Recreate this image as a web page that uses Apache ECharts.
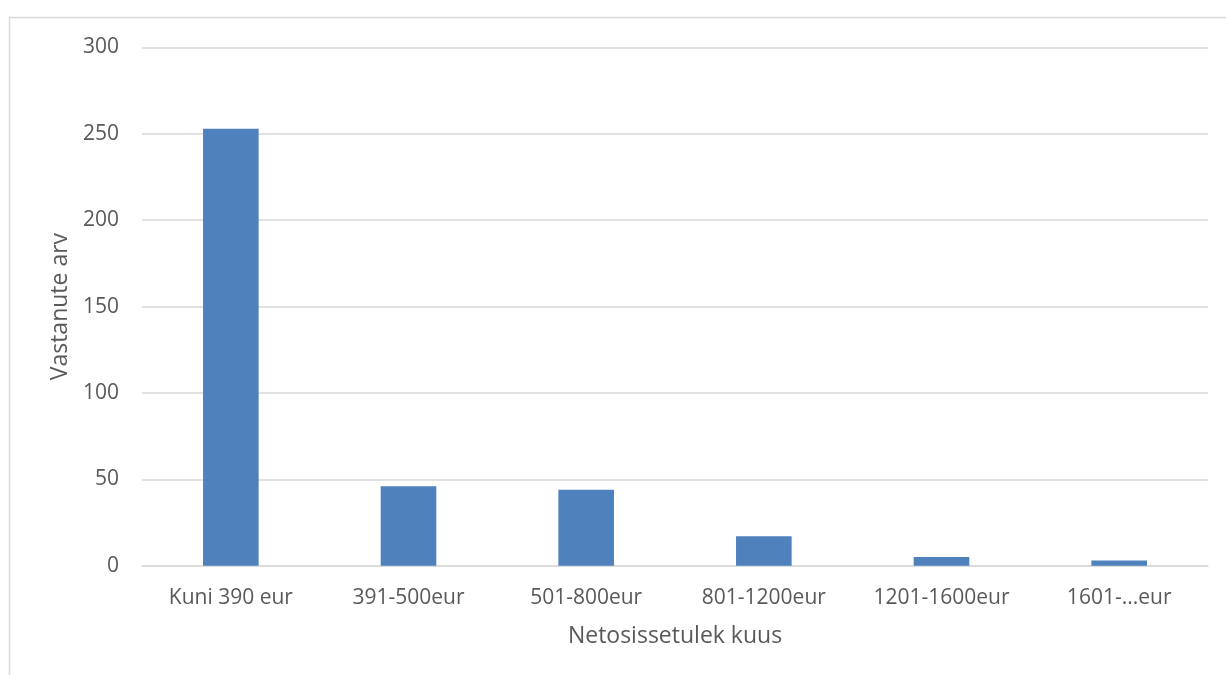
<!DOCTYPE html>
<html>
<head>
<meta charset="utf-8">
<style>
  html, body { margin: 0; padding: 0; background: #ffffff; }
  #chart { width: 1226px; height: 675px; }
</style>
<script src="https://cdn.jsdelivr.net/npm/echarts@6/dist/echarts.min.js"></script>
</head>
<body>
<div id="chart"></div>
<script>
// Income brackets and respondent counts
const categories = ['Kuni 390 eur', '391-500eur', '501-800eur', '801-1200eur', '1201-1600eur', '1601-...eur'];
const respondents = [253, 46, 44, 17, 5, 3];
const yTicks = { min: 0, max: 300, interval: 50 };

const textColor = '#595959';
const gridColor = '#D9D9D9';
const fontFamily = '"Open Sans", Lato, sans-serif';

const chart = echarts.init(document.getElementById('chart'), null, { renderer: 'canvas' });
chart.setOption({
  animation: false,
  backgroundColor: '#ffffff',
  graphic: [{
    type: 'rect',
    shape: { x: 9.5, y: 17.5, width: 1400, height: 800 },
    style: { fill: 'none', stroke: gridColor, lineWidth: 1.5 },
    silent: true
  }],
  grid: { left: 142, right: 18, top: 47.5, bottom: 109.3, containLabel: false },
  xAxis: {
    type: 'category',
    data: categories,
    name: 'Netosissetulek kuus',
    nameLocation: 'middle',
    nameGap: 59,
    nameTextStyle: { color: textColor, fontSize: 23, fontFamily },
    axisLine: { show: true, lineStyle: { color: gridColor, width: 1.5 } },
    axisTick: { show: false },
    axisLabel: { color: textColor, fontSize: 21, fontFamily, margin: 22 }
  },
  yAxis: {
    type: 'value',
    min: yTicks.min,
    max: yTicks.max,
    interval: yTicks.interval,
    name: 'Vastanute arv',
    nameLocation: 'middle',
    nameGap: 70,
    nameRotate: 90,
    nameTextStyle: { color: textColor, fontSize: 23, fontFamily },
    axisLine: { show: false },
    axisTick: { show: false },
    axisLabel: { color: textColor, fontSize: 21, fontFamily, margin: 23 },
    splitLine: { lineStyle: { color: gridColor, width: 1.5 } }
  },
  series: [{
    type: 'bar',
    data: respondents,
    barWidth: '31.3%',
    itemStyle: { color: '#4F81BD' }
  }]
});
</script>
</body>
</html>
